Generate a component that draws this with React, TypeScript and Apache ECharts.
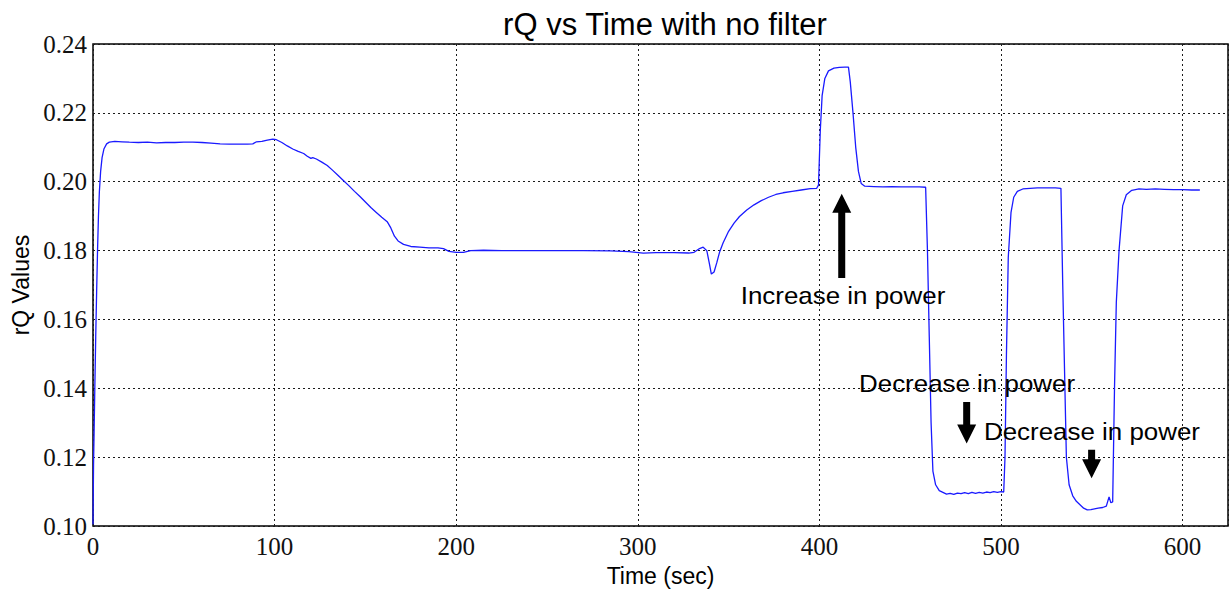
import React, { useEffect, useRef } from "react";
import * as echarts from "echarts";

// rQ samples over time (seconds)
const timeSec: number[] = [
  0, 0.3, 0.6, 1.0, 1.5, 2.0, 2.5, 3.0, 3.5, 4.2, 5.0, 6.0, 7.5, 9.0, 12, 16, 20, 25, 30, 35, 40, 45, 50, 55, 60,
  65, 70, 75, 80, 85, 88, 90, 93, 96, 99, 101, 104, 107, 110, 113, 116, 118, 120, 121, 123, 126, 129, 132, 135,
  138, 141, 144, 147, 150, 153, 156, 159, 162, 164, 166, 168, 171, 175, 180, 185, 190, 193, 196, 200, 204, 208,
  215, 225, 240, 255, 270, 285, 295, 303, 310, 320, 328, 331, 334, 336, 338, 339.5, 340.5, 342, 343.5, 345, 347,
  350, 353, 356, 360, 364, 368, 372, 376, 380, 385, 390, 395, 398.5, 399.5, 400.5, 401.5, 403, 405, 408, 411, 414,
  416, 417, 418.5, 420, 421.5, 423, 425, 430, 435, 440, 445, 450, 455, 458.5, 459.5, 460.5, 461.5, 462.5, 464, 466,
  468, 470, 472, 474, 476, 478, 480, 482, 484, 486, 488, 490, 492, 494, 496, 498, 500, 501.5, 502.2, 503, 504,
  505.5, 507, 509, 512, 516, 520, 525, 530, 533, 534, 535, 536, 537.5, 539.5, 541.5, 543.5, 545.5, 547.5, 549.5,
  551.5, 553.5, 556, 558, 559.5, 560.5, 561.5, 562.5, 563.5, 565, 567, 569, 572, 576, 580, 585, 590, 595, 600,
  605, 609.5,
];

const rQ: number[] = [
  0.1005, 0.118, 0.127, 0.14, 0.155, 0.168, 0.18, 0.19, 0.197, 0.203, 0.207, 0.2095, 0.211, 0.2115, 0.2117, 0.2116,
  0.2115, 0.2114, 0.2115, 0.2113, 0.2114, 0.2114, 0.2115, 0.2115, 0.2114, 0.2112, 0.211, 0.2109, 0.2109, 0.2109,
  0.211, 0.2116, 0.2117, 0.2121, 0.2124, 0.2122, 0.2114, 0.2104, 0.2095, 0.2088, 0.2082, 0.2074, 0.2068, 0.207,
  0.2066, 0.2057, 0.2047, 0.2033, 0.2018, 0.2003, 0.1988, 0.1972, 0.1957, 0.1941, 0.1925, 0.1911, 0.1897, 0.1884,
  0.1866, 0.1842, 0.1828, 0.1818, 0.1812, 0.181, 0.1808, 0.1808, 0.1806, 0.1798, 0.1795, 0.1795, 0.18, 0.1801,
  0.18, 0.18, 0.18, 0.18, 0.1799, 0.1797, 0.1793, 0.1794, 0.1794, 0.1793, 0.1795, 0.1806, 0.181, 0.18, 0.176,
  0.1732, 0.1738, 0.1765, 0.1795, 0.1823, 0.1856, 0.188, 0.1899, 0.1918, 0.1933, 0.1945, 0.1955, 0.1963, 0.1968,
  0.1972, 0.1976, 0.198, 0.1981, 0.199, 0.215, 0.225, 0.23, 0.2322, 0.233, 0.2332, 0.2333, 0.2333, 0.229, 0.22,
  0.21, 0.203, 0.1995, 0.1987, 0.1986, 0.1985, 0.1986, 0.1985, 0.1985, 0.1985, 0.1984, 0.18, 0.155, 0.13, 0.116,
  0.112, 0.1103, 0.1098, 0.1093, 0.1095, 0.1092, 0.1096, 0.1094, 0.1097, 0.1094, 0.1098, 0.1095, 0.1098, 0.1096,
  0.1099, 0.1097, 0.11, 0.1098, 0.11, 0.1099, 0.12, 0.15, 0.178, 0.191, 0.1955, 0.1972, 0.1979, 0.1981, 0.1982,
  0.1982, 0.1982, 0.1981, 0.17, 0.145, 0.12, 0.112, 0.1088, 0.1072, 0.1062, 0.1052, 0.1047, 0.1048, 0.105, 0.1052,
  0.1054, 0.1058, 0.1085, 0.1068, 0.107, 0.14, 0.165, 0.18, 0.193, 0.1962, 0.1975, 0.1979, 0.1978, 0.1979,
  0.1978, 0.1977, 0.1977, 0.1976, 0.1976,
];

// Axis ranges and ticks
const xTicks = { min: 0, max: 625, step: 100 };
const yTicks = { min: 0.1, max: 0.24, step: 0.02 };

// Annotations: label text with its anchor, and arrows from tail to tip (data coordinates)
const noteLabels: { text: string; at: [number, number] }[] = [
  { text: "Increase in power", at: [413, 0.16715] },
  { text: "Decrease in power", at: [481.3, 0.1415] },
  { text: "Decrease in power", at: [550.1, 0.12738] },
];
const noteArrows: { from: [number, number]; to: [number, number] }[] = [
  { from: [412.3, 0.17205], to: [412.3, 0.19654] },
  { from: [481.1, 0.13602], to: [481.1, 0.12401] },
  { from: [549.9, 0.12219], to: [549.9, 0.11392] },
];

const SANS = "'Liberation Sans', Arial, Helvetica, sans-serif";
const SERIF = "'Liberation Serif', 'Times New Roman', serif";

export default function App() {
  const ref = useRef<HTMLDivElement>(null);

  useEffect(() => {
    if (!ref.current) return;
    const chart = echarts.init(ref.current, null, { renderer: "svg" });

    const gridLine = { show: true, lineStyle: { color: "#1a1a1a", width: 1, type: [2, 3] as number[] } };

    chart.setOption({
      animation: false,
      backgroundColor: "#ffffff",
      title: {
        text: "rQ vs Time with no filter",
        left: 660,
        textAlign: "center",
        top: 4,
        textStyle: { fontFamily: SANS, fontSize: 31, fontWeight: "normal", color: "#000" },
      },
      grid: {
        left: 93,
        right: 3,
        top: 44,
        bottom: 62,
        show: true,
        borderColor: "#000",
        borderWidth: 1.5,
        backgroundColor: "transparent",
      },
      xAxis: {
        type: "value",
        min: xTicks.min,
        max: xTicks.max,
        interval: xTicks.step,
        axisLine: { show: false },
        axisTick: { show: false },
        splitLine: gridLine,
        axisLabel: {
          fontFamily: SERIF,
          fontSize: 25,
          color: "#111",
          margin: 8,
          showMaxLabel: false,
        },
        name: "Time (sec)",
        nameLocation: "middle",
        nameGap: 33,
        nameTextStyle: { fontFamily: SANS, fontSize: 23, color: "#000" },
      },
      yAxis: {
        type: "value",
        min: yTicks.min,
        max: yTicks.max,
        interval: yTicks.step,
        axisLine: { show: false },
        axisTick: { show: false },
        splitLine: gridLine,
        axisLabel: {
          fontFamily: SERIF,
          fontSize: 25,
          color: "#111",
          margin: 6,
          formatter: (v: number) => v.toFixed(2),
        },
        name: "rQ Values",
        nameLocation: "middle",
        nameRotate: 90,
        nameGap: 60,
        nameTextStyle: { fontFamily: SANS, fontSize: 23, color: "#000" },
      },
      series: [
        {
          type: "line",
          data: timeSec.map((t, i) => [t, rQ[i]]),
          showSymbol: false,
          lineStyle: { color: "#1a1aff", width: 1.3 },
          z: 3,
        },
      ],
    });

    const px = (p: [number, number]) => chart.convertToPixel({ gridIndex: 0 }, p) as number[];

    const arrowShape = (from: [number, number], to: [number, number]) => {
      const a = px(from);
      const b = px(to);
      const dir = Math.sign(b[1] - a[1]);
      const shaft = 7;
      const headW = 19;
      const headL = 19;
      const x = a[0];
      const neck = b[1] - dir * headL;
      return [
        [x - shaft / 2, a[1]],
        [x + shaft / 2, a[1]],
        [x + shaft / 2, neck],
        [x + headW / 2, neck],
        [x, b[1]],
        [x - headW / 2, neck],
        [x - shaft / 2, neck],
      ];
    };

    const graphics: any[] = [];
    noteArrows.forEach((ar) => {
      graphics.push({
        type: "polygon",
        shape: { points: arrowShape(ar.from, ar.to) },
        style: { fill: "#000" },
        z: 10,
      });
    });
    noteLabels.forEach((lb) => {
      const p = px(lb.at);
      graphics.push({
        type: "text",
        x: p[0],
        y: p[1],
        scaleX: 1.08,
        style: {
          text: lb.text,
          fontFamily: SANS,
          fontSize: 24,
          fill: "#000",
          align: "center",
          verticalAlign: "middle",
        },
        z: 10,
      });
    });
    chart.setOption({ graphic: graphics });

    return () => chart.dispose();
  }, []);

  return (
    <div
      ref={ref}
      style={{ position: "absolute", left: 0, top: 0, width: 1231, height: 592, background: "#fff" }}
    />
  );
}
